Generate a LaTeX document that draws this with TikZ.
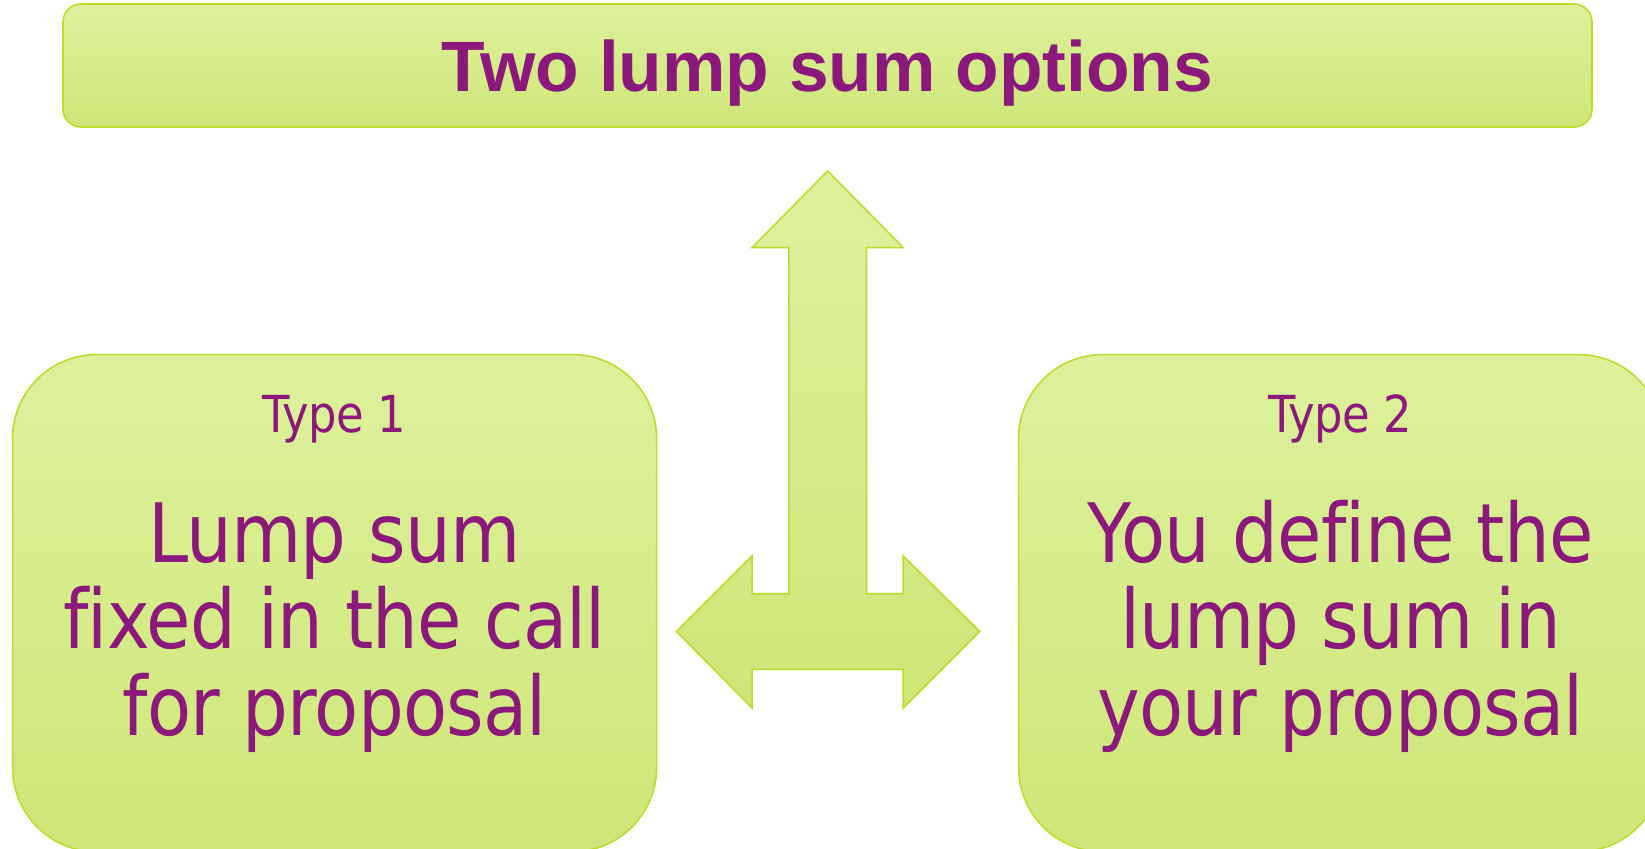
\documentclass[tikz,border=0pt]{standalone}
\usepackage{fontspec}
\newfontfamily\bodyfont[FakeStretch=0.88,LetterSpace=-1.0,Ligatures={NoCommon}]{DejaVu Sans}
\newfontfamily\titlefont{Liberation Sans}
\definecolor{txt}{RGB}{139,25,124}
\definecolor{fillTop}{RGB}{221,241,156}
\definecolor{fillBot}{RGB}{207,230,120}
\definecolor{edge}{RGB}{190,218,45}
\begin{document}
\begin{tikzpicture}[x=1pt,y=-1pt,
  panel/.style={draw=edge, line width=1.6pt, top color=fillTop, bottom color=fillBot, inner sep=0pt},
  titletxt/.style={text=txt, inner sep=0pt, anchor=base, font=\titlefont\bfseries\fontsize{71.3}{80}\selectfont},
  typetxt/.style={text=txt, inner sep=0pt, anchor=base, font=\bodyfont\fontsize{51}{58}\selectfont},
  bigtxt/.style={text=txt, inner sep=0pt, anchor=base, font=\bodyfont\fontsize{82}{86}\selectfont}]
\useasboundingbox (0,0) rectangle (1645,848);
\clip (0,0) rectangle (1645,848);
\fill[white] (0,0) rectangle (1645,848);

% title
\node[panel, rounded corners=18pt, minimum width=1529pt, minimum height=123pt] (title) at (827.5,65.5) {};
\node[titletxt] (titletext) at (827.5,91.5) {Two lump sum options};

% arrow
\path[draw=edge, line width=1.6pt, top color=fillTop, bottom color=fillBot, line join=miter]
  (827.7,171) -- (903.2,247.6) -- (866.5,247.6) -- (866.5,593.7) -- (903.2,593.7)
  -- (903.2,556) -- (979.8,631.5) -- (903.2,708) -- (903.2,669.3) -- (752.1,669.3)
  -- (752.1,708) -- (676.6,631.5) -- (752.1,556) -- (752.1,593.7) -- (788.8,593.7)
  -- (788.8,247.6) -- (752.1,247.6) -- cycle;

% left box
\node[panel, rounded corners=84pt, minimum width=644pt, minimum height=497pt] (leftbox) at (334.6,603.1) {};
\node[typetxt] (type1) at (334.6,432) {Type 1};
\node[bigtxt] (l1) at (334.6,562) {Lump sum};
\node[bigtxt] (l2) at (334.6,648.5) {fixed in the call};
\node[bigtxt] (l3) at (334.6,735) {for proposal};

% right box
\node[panel, rounded corners=84pt, minimum width=644pt, minimum height=497pt] (rightbox) at (1340.6,603.1) {};
\node[typetxt] (type2) at (1340.6,432) {Type 2};
\node[bigtxt] (r1) at (1340.6,562) {You define the};
\node[bigtxt] (r2) at (1340.6,648.5) {lump sum in};
\node[bigtxt] (r3) at (1340.6,735) {your proposal};
\end{tikzpicture}
\end{document}
